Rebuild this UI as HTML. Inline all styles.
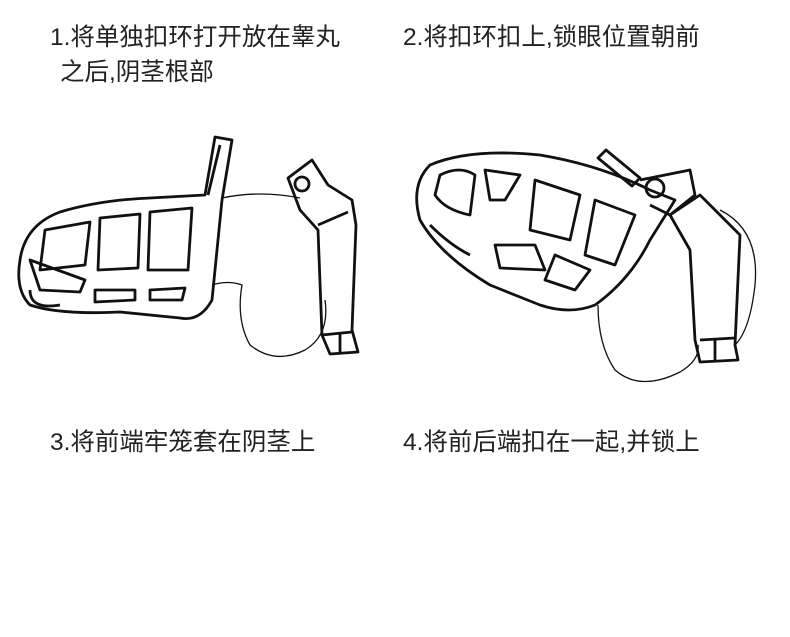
<!DOCTYPE html>
<html><head><meta charset="utf-8"><style>
body{margin:0;background:#fff;width:790px;height:637px;overflow:hidden;position:relative;font-family:"Liberation Sans","Noto Sans CJK SC",sans-serif;color:#222}
.t{position:absolute;font-size:24.5px;white-space:nowrap;line-height:30px}
svg{position:absolute;left:0;top:0}
</style></head><body>
<div class="t" style="left:50px;top:23px">1.将单独扣环打开放在睾丸</div>
<div class="t" style="left:60px;top:58px">之后,阴茎根部</div>
<div class="t" style="left:403px;top:23px">2.将扣环扣上,锁眼位置朝前</div>
<div class="t" style="left:50px;top:428px">3.将前端牢笼套在阴茎上</div>
<div class="t" style="left:403px;top:428px">4.将前后端扣在一起,并锁上</div>
<svg width="790" height="637" viewBox="0 0 790 637" fill="none" stroke="#111" stroke-width="2.8" stroke-linejoin="round">
<!-- left cage -->
<path d="M215 137 L232 140 L222 200 L212 300 Q200 322 180 318 L120 312 Q60 315 30 305 Q15 290 20 260 Q25 225 60 212 Q100 200 150 198 L205 195 Z"/>
<path d="M208 195 L220 145"/>
<path d="M45 230 L90 222 L85 265 L40 270 Z"/>
<path d="M100 218 L140 214 L138 268 L98 270 Z"/>
<path d="M150 212 L192 208 L188 270 L148 270 Z"/>
<path d="M30 260 L40 290 L80 292 L85 280 Z"/>
<path d="M95 290 L135 290 L135 300 L95 302 Z"/>
<path d="M150 290 L185 288 L182 300 L150 300 Z"/>
<path d="M30 290 Q30 310 60 305"/>
<!-- skin -->
<path d="M222 198 Q260 190 300 198" stroke-width="1.3"/>
<path d="M212 285 Q228 280 242 285 Q236 320 250 345 Q275 365 305 350 Q330 335 325 300" stroke-width="1.3"/>
<!-- ring left -->
<path d="M288 178 L312 160 L328 185 L352 200 L356 225 L352 330 L358 352 L330 354 L322 335 L318 230 L300 210 Z"/>
<circle cx="302" cy="184" r="7"/>
<path d="M318 225 L348 212"/>
<path d="M322 335 L352 332 M340 333 L340 352"/>
<!-- right drawing -->
<path d="M430 165 Q470 148 540 155 Q600 165 650 190 L675 200 L650 240 Q630 280 595 305 Q570 315 540 305 L490 285 Q440 255 420 220 Q410 185 430 165 Z"/>
<path d="M440 175 Q460 165 475 175 L470 215 Q445 210 435 195 Z"/>
<path d="M485 170 L520 175 L505 200 L490 200 Z"/>
<path d="M535 180 L580 195 L570 240 L530 230 Z"/>
<path d="M595 200 L635 215 L615 265 L585 255 Z"/>
<path d="M495 245 L535 245 L545 270 L500 268 Z"/>
<path d="M555 255 L590 270 L575 290 L545 280 Z"/>
<path d="M430 225 Q450 245 470 255"/>
<!-- lock -->
<path d="M598 158 L606 150 L640 178 L632 186 Z"/>
<circle cx="655" cy="188" r="9"/>
<path d="M640 180 L690 170 L695 195 L670 215 L650 205"/>
<!-- ring right -->
<path d="M670 215 L700 195 L725 220 L740 235 L735 345 L738 360 L700 362 L695 340 L690 250 Z"/>
<path d="M700 340 L735 338 M715 340 L715 360"/>
<path d="M720 210 Q760 230 755 285 Q750 330 735 345" stroke-width="1.3"/>
<path d="M598 305 Q598 345 615 370 Q640 392 680 372 Q700 360 698 345" stroke-width="1.3"/>
</svg>
</body></html>
